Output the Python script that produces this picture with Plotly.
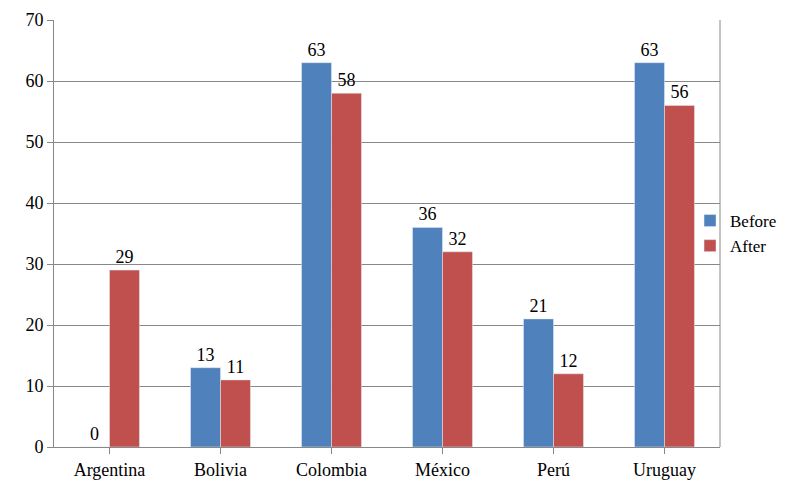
import plotly.graph_objects as go

countries = ["Argentina", "Bolivia", "Colombia", "México", "Perú", "Uruguay"]
before = [0, 13, 63, 36, 21, 63]
after = [29, 11, 58, 32, 12, 56]

font = dict(family="Liberation Serif", size=18, color="#000")

fig = go.Figure()
fig.add_trace(go.Bar(name="Before", x=countries, y=before, marker_color="#4F81BD",
                     text=before, textposition="outside", textfont=font, cliponaxis=False))
fig.add_trace(go.Bar(name="After", x=countries, y=after, marker_color="#C0504D",
                     text=after, textposition="outside", textfont=font, cliponaxis=False))

fig.update_layout(
    width=793, height=490,
    margin=dict(l=46, r=81, t=12, b=51, autoexpand=False),
    paper_bgcolor="white", plot_bgcolor="white",
    font=font,
    barmode="group", bargap=0.46, bargroupgap=0,
    legend=dict(x=0.955, y=0.5, yanchor="middle", xanchor="left",
                font=dict(family="Liberation Serif", size=17, color="#000"),
                itemwidth=30, bgcolor="rgba(0,0,0,0)"),
    xaxis=dict(showline=True, linecolor="#888", ticks="outside",
               tickcolor="#888", ticklen=6, showgrid=False, tickfont=font),
    yaxis=dict(range=[0, 70], dtick=10, showgrid=True, gridcolor="#888",
               showline=True, linecolor="#888", ticks="outside", tickcolor="#888",
               ticklen=6, zeroline=False, tickfont=font),
)
fig.add_shape(type="line", xref="paper", yref="paper", x0=1, x1=1, y0=0, y1=1,
              line=dict(color="#888", width=1))

fig.write_html("out.html")
